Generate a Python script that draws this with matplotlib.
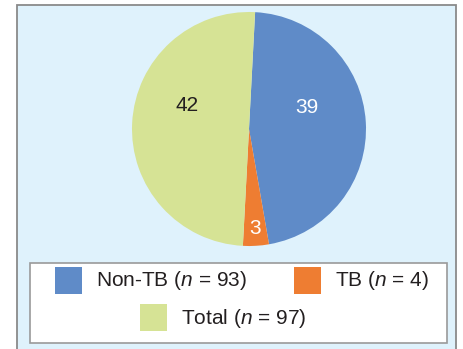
import numpy as np
import matplotlib.pyplot as plt
from matplotlib.patches import Rectangle

plt.rcParams['font.family'] = ['Liberation Sans', 'DejaVu Sans']
plt.rcParams['mathtext.fontset'] = 'custom'
plt.rcParams['mathtext.rm'] = 'Liberation Sans'
plt.rcParams['mathtext.it'] = 'Liberation Sans:italic'

# wedge values, clockwise from the top
values = [39, 3, 42]
colors = ['#5f8bc8', '#ee7d32', '#d6e395']
label_colors = ['white', 'white', '#231f20']

# legend entries
legend_labels = ['Non-TB ($n$ = 93)', 'TB ($n$ = 4)', 'Total ($n$ = 97)']
legend_colors = ['#5f8bc8', '#ee7d32', '#d6e395']

W, H = 464, 349
fig = plt.figure(figsize=(W / 100, H / 100), dpi=100)

# background panel in pixel coordinates
bg = fig.add_axes([0, 0, 1, 1])
bg.set_xlim(0, W)
bg.set_ylim(H, 0)
bg.axis('off')
bg.add_patch(Rectangle((17.5, 4.5), 439, 360, facecolor='#dff2fc',
                       edgecolor='#8a8a8a', linewidth=1.3, clip_on=False))

# legend box
bg.add_patch(Rectangle((30.5, 262.5), 417, 80, facecolor='white',
                       edgecolor='#9a9a9a', linewidth=1.2))
legend_pos = [(55, 267), (294, 267), (140, 304)]
for (x, y), lab, col in zip(legend_pos, legend_labels, legend_colors):
    bg.add_patch(Rectangle((x, y), 27, 27, facecolor=col, edgecolor='none'))
    bg.text(x + 41, y + 14, lab, fontsize=15, color='#231f20',
            va='center', ha='left')

# pie
cx, cy, r = 249, 129, 117
ax = fig.add_axes([(cx - r) / W, (H - cy - r) / H, 2 * r / W, 2 * r / H])
wedges, _ = ax.pie(values, colors=colors, startangle=87, counterclock=False,
                   wedgeprops=dict(linewidth=0))
ax.set_xlim(-1, 1)
ax.set_ylim(-1, 1)
ax.axis('off')

# value labels
label_r = [0.53, 0.85, 0.57]
label_ang = [20, None, 159]
for w, v, rr, a, c in zip(wedges, values, label_r, label_ang, label_colors):
    if a is None:
        a = (w.theta1 + w.theta2) / 2
    t = np.deg2rad(a)
    ax.text(rr * np.cos(t), rr * np.sin(t), str(v), fontsize=15,
            color=c, ha='center', va='center')

fig.savefig('out.png', dpi=100)
